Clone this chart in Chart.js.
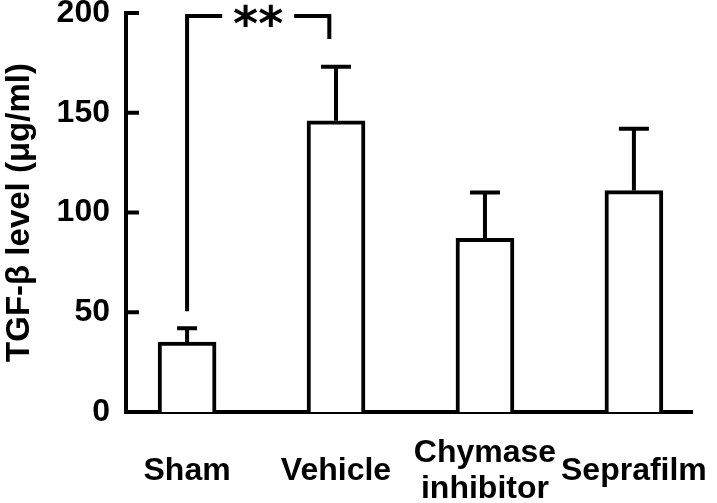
<!DOCTYPE html>
<html>
<head>
<meta charset="utf-8">
<script src="https://cdn.jsdelivr.net/npm/chart.js@4.4.1/dist/chart.umd.min.js"></script>
<style>
  html, body { margin: 0; padding: 0; background: #fff; }
</style>
</head>
<body>
<canvas id="chart" width="717" height="503"></canvas>
<script>
// values
const categories = ['Sham', 'Vehicle', ['Chymase', 'inhibitor'], 'Seprafilm'];
const meanValues = [35, 146, 87, 111];
const errorValues = [7, 27, 23, 31];
const yTicks = [0, 50, 100, 150, 200];
const sigLabel = '**';

const FONT = '"Liberation Sans", Arial, sans-serif';

// error bars, inside ticks and the significance bracket
const extras = {
  id: 'extras',
  afterDatasetsDraw(chart) {
    const { ctx, scales: { x, y } } = chart;
    ctx.save();
    ctx.strokeStyle = '#000';
    ctx.fillStyle = '#000';
    ctx.lineWidth = 4;
    ctx.lineCap = 'butt';
    ctx.lineJoin = 'miter';

    // y ticks point into the plot
    yTicks.forEach(v => {
      const py = y.getPixelForValue(v);
      ctx.beginPath();
      ctx.moveTo(x.left, py);
      ctx.lineTo(x.left + 13, py);
      ctx.stroke();
    });

    // upper error bars
    const capWidths = [20, 30, 30, 30];
    meanValues.forEach((m, i) => {
      const px = x.getPixelForValue(i);
      const base = y.getPixelForValue(m);
      const tip = y.getPixelForValue(m + errorValues[i]);
      const half = capWidths[i] / 2;
      ctx.beginPath();
      ctx.moveTo(px, base);
      ctx.lineTo(px, tip);
      ctx.moveTo(px - half, tip);
      ctx.lineTo(px + half, tip);
      ctx.stroke();
    });

    // bracket Sham vs Vehicle
    const lx = x.getPixelForValue(0);
    const rx = x.getPixelForValue(0.955);
    const top = y.getPixelForValue(198.5);
    const mid = (lx + rx) / 2;
    ctx.beginPath();
    ctx.moveTo(lx, y.getPixelForValue(50.5));
    ctx.lineTo(lx, top);
    ctx.lineTo(mid - 36, top);
    ctx.moveTo(mid + 36, top);
    ctx.lineTo(rx, top);
    ctx.lineTo(rx, y.getPixelForValue(187));
    ctx.stroke();

    ctx.font = 'bold 48px "DejaVu Sans", sans-serif';
    ctx.textAlign = 'center';
    ctx.textBaseline = 'alphabetic';
    const m = ctx.measureText(sigLabel);
    const glyphMid = (m.actualBoundingBoxAscent - m.actualBoundingBoxDescent) / 2;
    ctx.fillText(sigLabel, mid, top + glyphMid);
    ctx.restore();
  }
};

new Chart(document.getElementById('chart'), {
  type: 'bar',
  data: {
    datasets: [{
      data: meanValues.map((v, i) => ({ x: i, y: v })),
      backgroundColor: '#fff',
      borderColor: '#000',
      borderWidth: 4,
      barThickness: 58
    }]
  },
  options: {
    responsive: false,
    animation: false,
    devicePixelRatio: 1,
    layout: { padding: { top: 13, right: 25, left: 0, bottom: 0 } },
    plugins: { legend: { display: false }, tooltip: { enabled: false } },
    scales: {
      x: {
        type: 'linear',
        min: -0.41,
        max: 3.39,
        offset: false,
        grid: { display: false, drawTicks: false, offset: false },
        border: { color: '#000', width: 4 },
        afterBuildTicks: s => { s.ticks = categories.map((c, i) => ({ value: i })); },
        afterFit: s => { s.height = 91; s.paddingLeft = 0; s.paddingRight = 0; },
        ticks: {
          callback: v => categories[v],
          autoSkip: false,
          maxRotation: 0,
          minRotation: 0,
          crossAlign: 'center',
          padding: 41,
          color: '#000',
          font: { family: FONT, size: 32, weight: 'bold', lineHeight: 1.12 }
        }
      },
      y: {
        min: 0,
        max: 200,
        grid: { display: false, drawTicks: false },
        border: { color: '#000', width: 4 },
        afterBuildTicks: s => { s.ticks = yTicks.map(v => ({ value: v })); },
        afterFit: s => { s.width = 126; s.paddingTop = 0; s.paddingBottom = 0; },
        ticks: {
          padding: 16,
          color: '#000',
          font: { family: FONT, size: 32, weight: 'bold' }
        },
        title: {
          display: true,
          text: 'TGF-β level (μg/ml)',
          color: '#000',
          padding: { top: 0, bottom: 0 },
          font: { family: FONT, size: 33, weight: 'bold' }
        }
      }
    }
  },
  plugins: [extras]
});
</script>
</body>
</html>
